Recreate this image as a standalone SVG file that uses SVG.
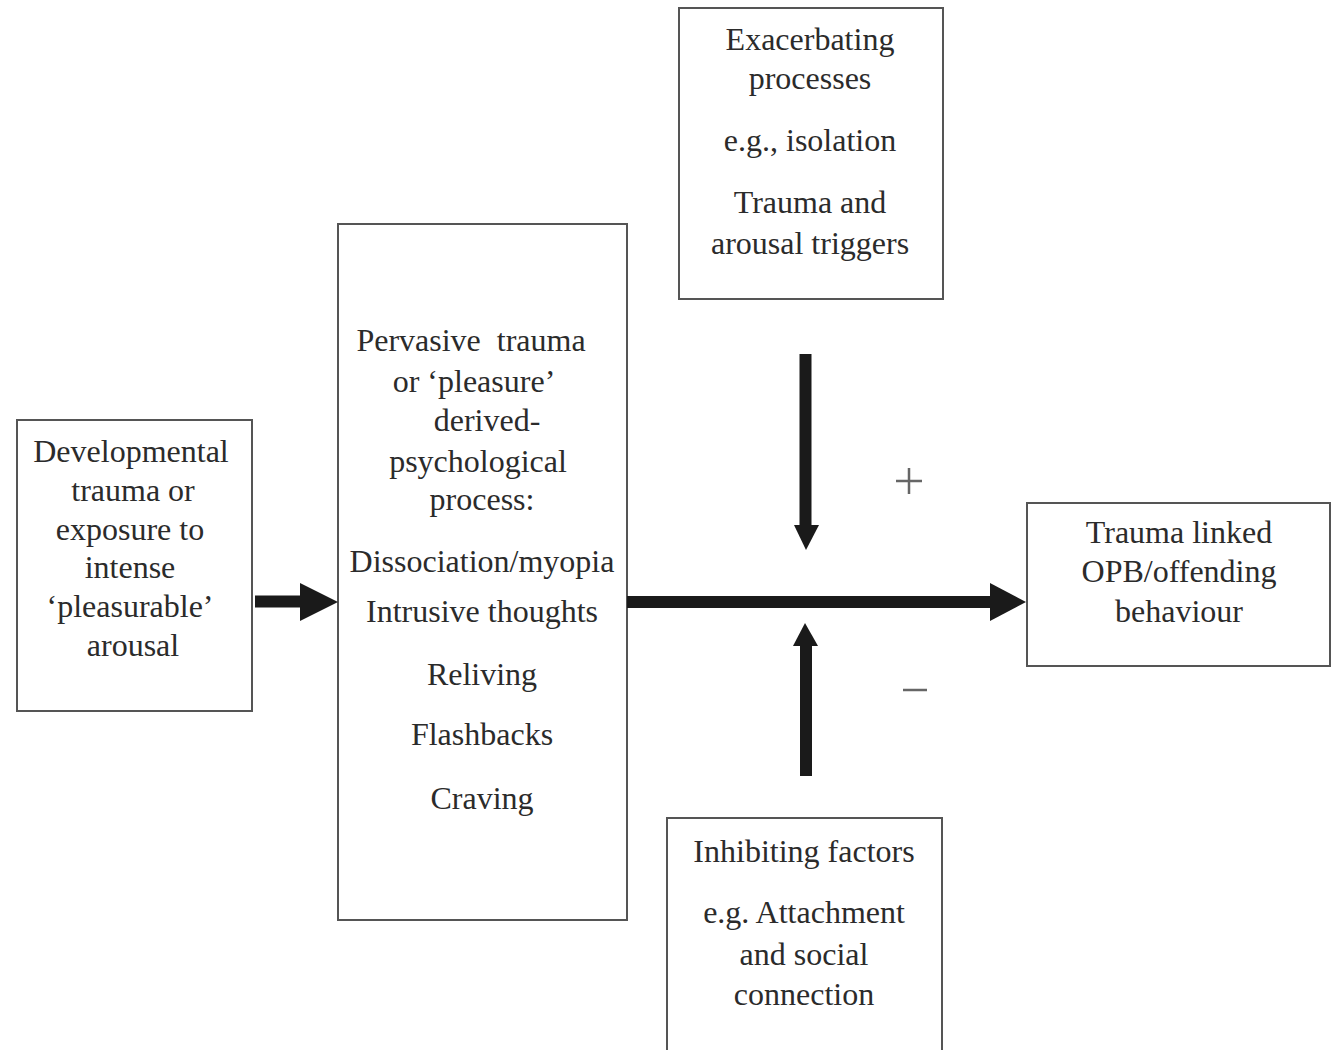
<svg xmlns="http://www.w3.org/2000/svg" width="1335" height="1050" viewBox="0 0 1335 1050">
<style>
.box{fill:#fff;stroke:#555;stroke-width:2}
.t{font-family:"Liberation Serif","Times New Roman",serif;font-size:32px;fill:#2b2b2b;text-anchor:middle}
.shaft{stroke:#1a1a1a;stroke-width:12;fill:none}
.head{fill:#1a1a1a}
.sign{stroke:#666;stroke-width:2.5;fill:none}
</style>
<rect width="1335" height="1050" fill="#fff"/>
<g id="developmental">
<rect class="box" x="17" y="420" width="235" height="291"/>
<text class="t" x="131" y="462">Developmental</text>
<text class="t" x="133" y="501">trauma or</text>
<text class="t" x="130" y="540">exposure to</text>
<text class="t" x="130" y="578">intense</text>
<text class="t" x="130" y="617">‘pleasurable’</text>
<text class="t" x="133" y="656">arousal</text>
</g>
<g id="process">
<rect class="box" x="338" y="224" width="289" height="696"/>
<text class="t" x="471" y="351" xml:space="preserve">Pervasive  trauma</text>
<text class="t" x="474" y="392">or ‘pleasure’</text>
<text class="t" x="487" y="431">derived-</text>
<text class="t" x="478" y="472">psychological</text>
<text class="t" x="482" y="510">process:</text>
<text class="t" x="482" y="572">Dissociation/myopia</text>
<text class="t" x="482" y="622">Intrusive thoughts</text>
<text class="t" x="482" y="685">Reliving</text>
<text class="t" x="482" y="745">Flashbacks</text>
<text class="t" x="482" y="809">Craving</text>
</g>
<g id="exacerbating">
<rect class="box" x="679" y="8" width="264" height="291"/>
<text class="t" x="810" y="50">Exacerbating</text>
<text class="t" x="810" y="89">processes</text>
<text class="t" x="810" y="151">e.g., isolation</text>
<text class="t" x="810" y="213">Trauma and</text>
<text class="t" x="810" y="254">arousal triggers</text>
</g>
<g id="outcome">
<rect class="box" x="1027" y="503" width="303" height="163"/>
<text class="t" x="1179" y="543">Trauma linked</text>
<text class="t" x="1179" y="582">OPB/offending</text>
<text class="t" x="1179" y="622">behaviour</text>
</g>
<g id="inhibiting">
<path class="box" d="M667 1052 V818 H942 V1052"/>
<text class="t" x="804" y="862">Inhibiting factors</text>
<text class="t" x="804" y="923">e.g. Attachment</text>
<text class="t" x="804" y="965">and social</text>
<text class="t" x="804" y="1005">connection</text>
</g>
<g id="connectors">
<line class="shaft" x1="255" y1="601.5" x2="302" y2="601.5"/>
<polygon class="head" points="300,583 338,602 300,621"/>
<line class="shaft" x1="627" y1="602" x2="992" y2="602"/>
<polygon class="head" points="990,583 1026,602 990,621"/>
<line class="shaft" x1="805.5" y1="354" x2="805.5" y2="527"/>
<polygon class="head" points="794,525 819,525 806,550"/>
<line class="shaft" x1="806" y1="776" x2="806" y2="644"/>
<polygon class="head" points="793,646 818,646 805,623"/>
</g>
<g id="signs">
<path class="sign" d="M896 481 H922 M909 468 V494"/>
<path class="sign" d="M903 690 H927"/>
</g>
</svg>
